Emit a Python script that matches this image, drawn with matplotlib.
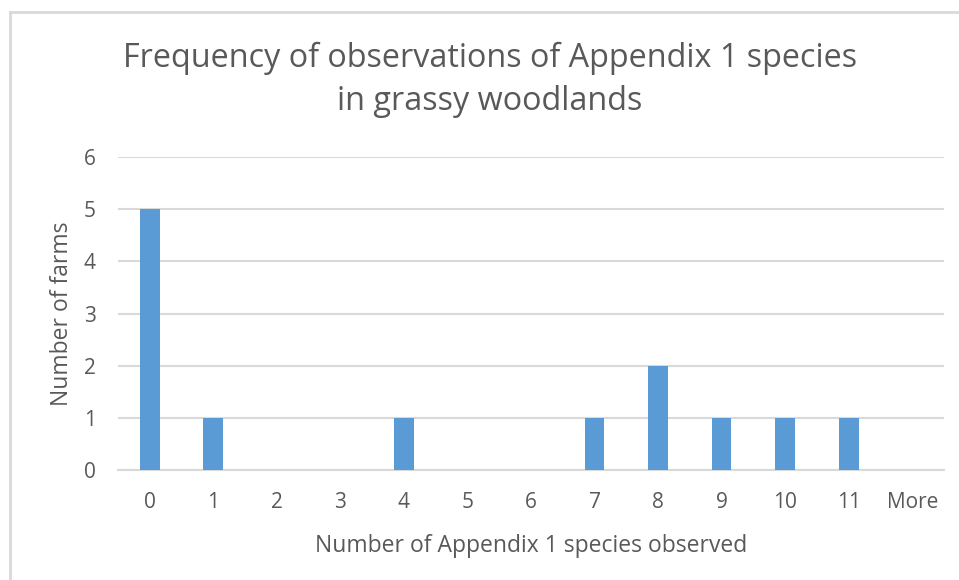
import matplotlib.pyplot as plt
from matplotlib.lines import Line2D

# Histogram bins and counts
categories = ['0', '1', '2', '3', '4', '5', '6', '7', '8', '9', '10', '11', 'More']
farm_counts = [5, 1, 0, 0, 1, 0, 0, 1, 2, 1, 1, 1, 0]
y_ticks = [0, 1, 2, 3, 4, 5, 6]

plt.rcParams['font.family'] = ['Open Sans', 'DejaVu Sans']
text_color = '#595959'
grid_color = '#d9d9d9'
bar_color = '#5b9bd5'

W, H = 959, 580
fig = plt.figure(figsize=(W / 100, H / 100), dpi=100)
ax = fig.add_axes([118 / W, 1 - 470 / H, (944 - 118) / W, (470 - 157) / H])

x = list(range(len(categories)))
ax.bar(x, farm_counts, width=0.31, color=bar_color, zorder=3)

ax.set_xlim(-0.5, len(categories) - 0.5)
ax.set_ylim(0, 6)
ax.set_yticks(y_ticks)
ax.set_xticks(x)
ax.set_xticklabels(categories)
ax.yaxis.grid(True, color=grid_color, linewidth=1.5, zorder=0)
ax.tick_params(axis='both', length=0, labelsize=15, colors=text_color)
ax.tick_params(axis='y', pad=16)
ax.tick_params(axis='x', pad=16)
for side in ['top', 'right', 'left']:
    ax.spines[side].set_visible(False)
ax.spines['bottom'].set_color(grid_color)
ax.spines['bottom'].set_linewidth(1.5)

ax.set_xlabel('Number of Appendix 1 species observed', fontsize=16.5,
              color=text_color, labelpad=15)
ax.set_ylabel('Number of farms', fontsize=16.5, color=text_color, labelpad=7)

fig.text(490 / W, 1 - 58 / H, 'Frequency of observations of Appendix 1 species',
         ha='center', va='center', fontsize=23.3, color=text_color)
fig.text(490 / W, 1 - 102 / H, 'in grassy woodlands',
         ha='center', va='center', fontsize=23.3, color=text_color)

# chart area border
fig.add_artist(Line2D([10 / W, 1], [1 - 12 / H, 1 - 12 / H], color='#d9d9d9',
                      linewidth=2, transform=fig.transFigure))
fig.add_artist(Line2D([10 / W, 10 / W], [0, 1 - 12 / H], color='#d9d9d9',
                      linewidth=2, transform=fig.transFigure))

fig.savefig('out.png', dpi=100)
